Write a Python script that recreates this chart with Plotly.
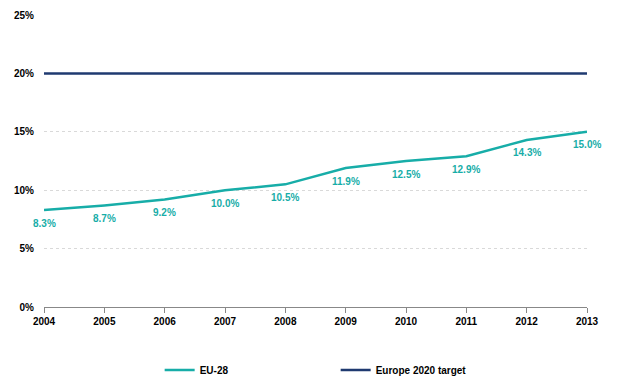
import plotly.graph_objects as go

years = ["2004", "2005", "2006", "2007", "2008", "2009", "2010", "2011", "2012", "2013"]
eu28 = [8.3, 8.7, 9.2, 10.0, 10.5, 11.9, 12.5, 12.9, 14.3, 15.0]
target = [20, 20, 20, 20, 20, 20, 20, 20, 20, 20]
eu_labels = ["8.3%", "8.7%", "9.2%", "10.0%", "10.5%", "11.9%", "12.5%", "12.9%", "14.3%", "15.0%"]
y_ticks = [0, 5, 10, 15, 20, 25]
y_tick_labels = ["0%", "5%", "10%", "15%", "20%", "25%"]

teal = "#17ADA8"
navy = "#1F3A70"
font_family = "Liberation Sans, Arial, sans-serif"

fig = go.Figure()
fig.add_trace(go.Scatter(
    x=years, y=eu28, mode="lines", name="EU-28",
    line=dict(color=teal, width=2.5),
))
fig.add_trace(go.Scatter(
    x=years, y=target, mode="lines", name="Europe 2020 target",
    line=dict(color=navy, width=2.5),
))

for i, (v, lab) in enumerate(zip(eu28, eu_labels)):
    fig.add_annotation(
        x=i, y=v, xref="x", yref="y", text=lab, showarrow=False,
        xanchor="center", yanchor="middle", yshift=-13,
        font=dict(color=teal, size=10, family=font_family, weight="bold"),
    )

fig.update_layout(
    width=617, height=400,
    margin=dict(l=36, r=38, t=7, b=101, pad=0),
    paper_bgcolor="white", plot_bgcolor="white",
    font=dict(family=font_family, size=10, color="#000000"),
    showlegend=True,
    legend=dict(
        orientation="h", x=0.213, xanchor="left", y=-0.216, yanchor="middle",
        font=dict(size=10, family=font_family, weight="bold"),
        entrywidth=131, entrywidthmode="pixels", itemwidth=30,
        bgcolor="rgba(0,0,0,0)",
    ),
    xaxis=dict(
        type="category", range=[0, 9], automargin=False,
        showgrid=False, showline=True, linecolor="#888888", linewidth=1,
        ticks="outside", ticklen=5, tickcolor="#888888",
        tickfont=dict(size=10, family=font_family, weight="bold", color="#000000"),
        zeroline=False,
    ),
    yaxis=dict(
        range=[0, 25], tickvals=y_ticks, ticktext=y_tick_labels, automargin=False,
        showgrid=True, gridcolor="#D9D9D9", griddash="dot", gridwidth=1,
        zeroline=False, showline=False, ticks="", ticklabelstandoff=9,
        tickfont=dict(size=10, family=font_family, weight="bold", color="#000000"),
    ),
)

fig.write_html("out.html")
